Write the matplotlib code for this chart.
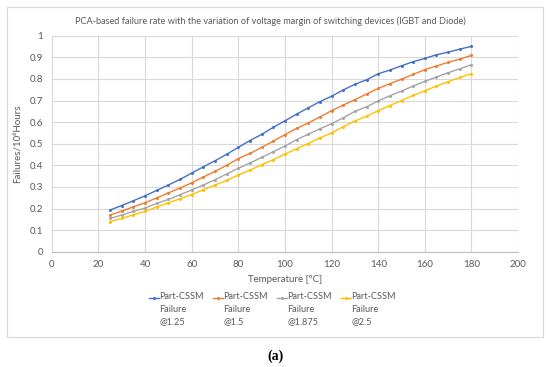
import numpy as np
import matplotlib
import matplotlib.pyplot as plt
from matplotlib.lines import Line2D
from matplotlib.patches import Rectangle

matplotlib.use('Agg')

plt.rcParams['font.family'] = ['Lato', 'DejaVu Sans']

# temperature steps (degC)
temperature = list(range(25, 185, 5))

# failure rate per series
fail_125 = [0.193, 0.214, 0.236, 0.259, 0.284, 0.309, 0.335, 0.364, 0.393, 0.421,
            0.451, 0.483, 0.515, 0.543, 0.576, 0.606, 0.637, 0.666, 0.695, 0.720,
            0.749, 0.775, 0.796, 0.824, 0.841, 0.861, 0.880, 0.895, 0.912, 0.924,
            0.938, 0.951]
fail_15 = [0.170, 0.188, 0.208, 0.227, 0.249, 0.272, 0.295, 0.319, 0.346, 0.372,
           0.400, 0.431, 0.455, 0.483, 0.512, 0.542, 0.571, 0.596, 0.624, 0.653,
           0.679, 0.704, 0.730, 0.756, 0.778, 0.799, 0.821, 0.843, 0.860, 0.877,
           0.892, 0.909]
fail_1875 = [0.154, 0.170, 0.187, 0.202, 0.224, 0.242, 0.264, 0.286, 0.309, 0.333,
             0.360, 0.386, 0.411, 0.437, 0.463, 0.489, 0.519, 0.544, 0.569, 0.593,
             0.620, 0.650, 0.671, 0.698, 0.722, 0.744, 0.767, 0.789, 0.809, 0.829,
             0.847, 0.866]
fail_25 = [0.140, 0.154, 0.171, 0.187, 0.207, 0.227, 0.245, 0.265, 0.287, 0.309,
           0.330, 0.355, 0.378, 0.403, 0.426, 0.452, 0.477, 0.501, 0.527, 0.550,
           0.579, 0.605, 0.627, 0.653, 0.677, 0.700, 0.724, 0.745, 0.767, 0.787,
           0.807, 0.825]

labels = ['Part-CSSM\nFailure\n@1.25', 'Part-CSSM\nFailure\n@1.5',
          'Part-CSSM\nFailure\n@1.875', 'Part-CSSM\nFailure\n@2.5']
colors = ['#4472C4', '#ED7D31', '#A5A5A5', '#FFC000']
series = [fail_125, fail_15, fail_1875, fail_25]

txt = '#595959'
grid = '#D9D9D9'

fig = plt.figure(figsize=(5.5, 3.67), dpi=100)

# outer chart frame
fig.patches.append(Rectangle((0.0133, 0.0826), 0.9735, 0.899, transform=fig.transFigure,
                             fill=False, edgecolor='#D9D9D9', linewidth=0.8))

ax = fig.add_axes([0.094, 0.314, 0.848, 0.5886])

for vals, c in zip(series, colors):
    ax.plot(temperature, vals, color=c, linewidth=1.0, marker='o', markersize=2.2,
            markeredgewidth=0)

ax.set_xlim(0, 200)
ax.set_ylim(0, 1)
ax.set_xticks(np.arange(0, 201, 20))
ax.set_yticks(np.arange(0, 1.01, 0.1))
ax.set_yticklabels(['0', '0.1', '0.2', '0.3', '0.4', '0.5', '0.6', '0.7', '0.8', '0.9', '1'])
ax.grid(True, color=grid, linewidth=0.8)
ax.set_axisbelow(True)
for s in ['top', 'right', 'left']:
    ax.spines[s].set_visible(False)
ax.spines['bottom'].set_color('#BFBFBF')
ax.spines['bottom'].set_linewidth(0.8)
ax.tick_params(length=0, labelsize=7, labelcolor=txt, pad=6)

ax.set_xlabel('Temperature [ºC]', fontsize=7, color=txt, labelpad=4)
ax.set_ylabel('Failures/10⁶Hours', fontsize=7, color=txt, labelpad=6)
fig.text(0.491, 1 - 21 / 367, 'PCA-based failure rate with the variation of voltage margin of switching devices (IGBT and Diode)',
         ha='center', va='center', fontsize=6.55, color=txt)

# legend, one column per series with the marker beside the first line
x0 = 149 / 550
step = 64 / 550
ytop = 1 - 297.7 / 367
for i, (lab, c) in enumerate(zip(labels, colors)):
    xl = x0 + i * step
    fig.add_artist(Line2D([xl, xl + 10 / 550], [ytop, ytop], color=c, linewidth=1.0,
                          transform=fig.transFigure))
    fig.add_artist(Line2D([xl + 5 / 550], [ytop], color=c, marker='o', markersize=2.2,
                          markeredgewidth=0, transform=fig.transFigure))
    fig.text(xl + 10.5 / 550, ytop + 5.5 / 367, lab, ha='left', va='top', fontsize=6.6,
             color=txt, linespacing=1.5)

fig.text(0.5, 1 - 356 / 367, '(a)', ha='center', va='center', fontsize=10,
         fontweight='bold', family=['Liberation Serif', 'DejaVu Serif'], color='black')

fig.savefig('out.png', dpi=100)
